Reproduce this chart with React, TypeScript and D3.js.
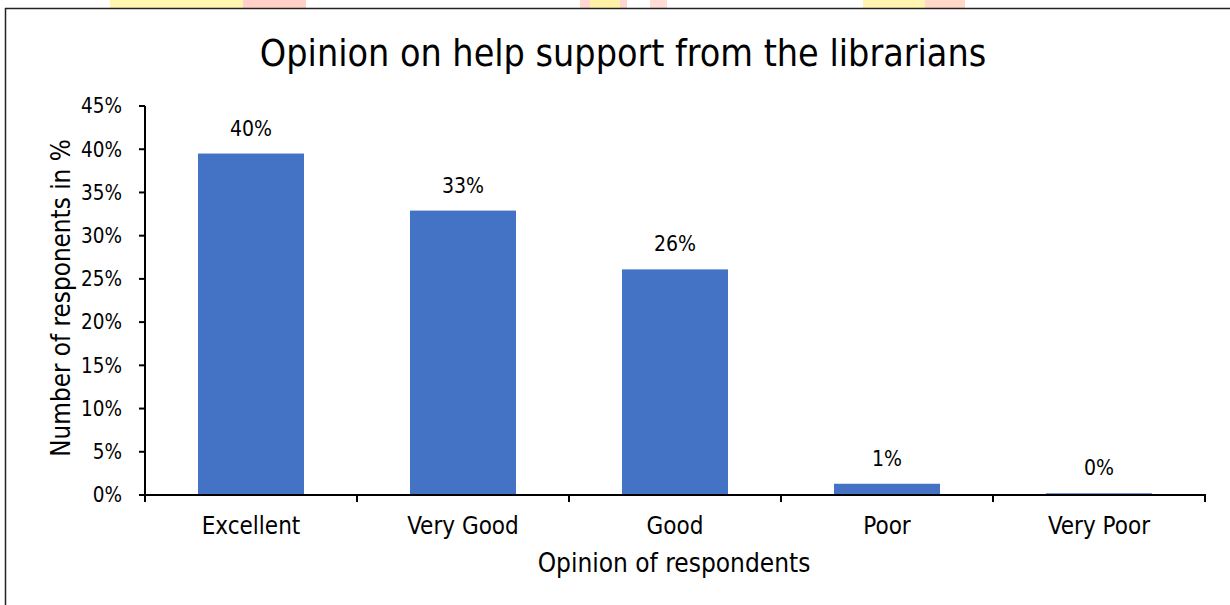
import React from "react";
import * as d3 from "d3";

const categories = ["Excellent", "Very Good", "Good", "Poor", "Very Poor"];
const values = [39.5, 32.9, 26.1, 1.3, 0.2];
const valueLabels = ["40%", "33%", "26%", "1%", "0%"];
const yTicks = [0, 5, 10, 15, 20, 25, 30, 35, 40, 45];

const W = 1230;
const H = 605;
const FONT = "'DejaVu Sans Condensed', 'DejaVu Sans', sans-serif";

// faint background watermark fragments visible above the chart frame
const watermark = [
  { x0: 110, x1: 260, color: "#fff6b0" },
  { x0: 243, x1: 306, color: "#ffd0c8" },
  { x0: 580, x1: 627, color: "#ffd6d0" },
  { x0: 590, x1: 620, color: "#fff2a8" },
  { x0: 650, x1: 667, color: "#ffdcd6" },
  { x0: 863, x1: 965, color: "#fff4b0" },
  { x0: 925, x1: 965, color: "#ffd8c8" },
];

export default function App() {
  const x = d3.scaleBand<string>().domain(categories).range([145, 1205]).paddingInner(0.5).paddingOuter(0.25);
  const y = d3.scaleLinear().domain([0, 45]).range([495, 106]);
  const bandEdges = d3.range(categories.length + 1).map((i) => 145 + (i * (1205 - 145)) / categories.length);

  return (
    <svg width={W} height={H} style={{ position: "absolute", left: 0, top: 0, background: "#fff" }}>
      <rect x={0} y={0} width={W} height={H} fill="#fff" />
      {watermark.map((w, i) => (
        <rect key={i} x={w.x0} y={0} width={w.x1 - w.x0} height={8} fill={w.color} />
      ))}
      {/* frame */}
      <line x1={5} y1={8.5} x2={W} y2={8.5} stroke="#222" strokeWidth={1.5} />
      <line x1={5.5} y1={8} x2={5.5} y2={H} stroke="#222" strokeWidth={1.5} />

      <text x={623} y={66} textAnchor="middle" fontFamily={FONT} fontSize={37.3} fill="#000">
        Opinion on help support from the librarians
      </text>

      {/* bars */}
      {categories.map((c, i) => (
        <rect key={c} x={x(c)} y={y(values[i])} width={x.bandwidth()} height={y(0) - y(values[i])} fill="#4472C4" />
      ))}
      {categories.map((c, i) => (
        <text key={c} x={(x(c) as number) + x.bandwidth() / 2} y={y(values[i]) - 18} textAnchor="middle" fontFamily={FONT} fontSize={21} fill="#000">
          {valueLabels[i]}
        </text>
      ))}

      {/* y axis */}
      <line x1={145} y1={y(45)} x2={145} y2={y(0)} stroke="#000" strokeWidth={2} />
      {yTicks.map((t) => (
        <g key={t}>
          <line x1={139} x2={145} y1={y(t)} y2={y(t)} stroke="#000" strokeWidth={2} />
          <text x={122} y={y(t)} dy="0.36em" textAnchor="end" fontFamily={FONT} fontSize={20.5} fill="#000">
            {t}%
          </text>
        </g>
      ))}

      {/* x axis */}
      <line x1={144} y1={495} x2={1206} y2={495} stroke="#000" strokeWidth={2} />
      {bandEdges.map((e, i) => (
        <line key={i} x1={e} x2={e} y1={495} y2={502} stroke="#000" strokeWidth={2} />
      ))}
      {categories.map((c) => (
        <text key={c} x={(x(c) as number) + x.bandwidth() / 2} y={534} textAnchor="middle" fontFamily={FONT} fontSize={24} fill="#000">
          {c}
        </text>
      ))}

      <text x={674} y={572} textAnchor="middle" fontFamily={FONT} fontSize={26} fill="#000">
        Opinion of respondents
      </text>
      <text transform={`translate(70,298) rotate(-90)`} textAnchor="middle" fontFamily={FONT} fontSize={25.8} fill="#000">
        Number of responents in %
      </text>
    </svg>
  );
}
